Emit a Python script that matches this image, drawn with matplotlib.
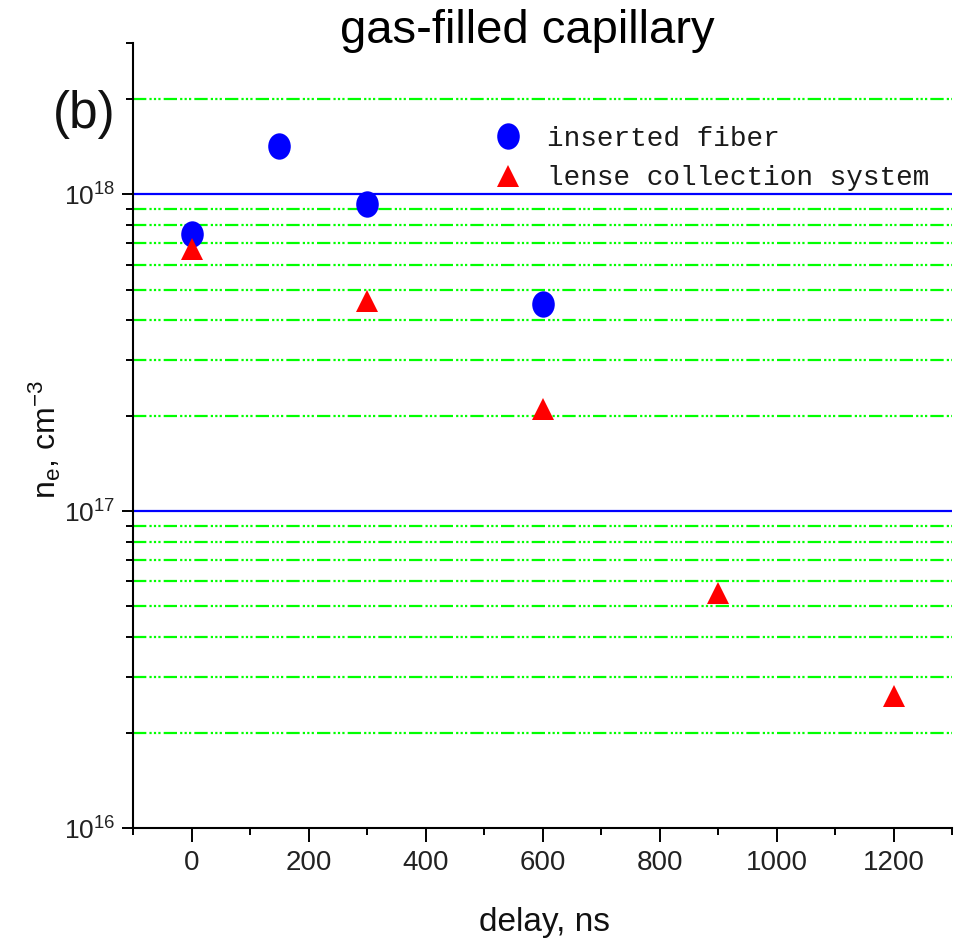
import matplotlib
matplotlib.use("Agg")
import matplotlib.pyplot as plt
from matplotlib.path import Path
from matplotlib.ticker import NullFormatter

plt.rcParams['font.family'] = ['Liberation Sans', 'DejaVu Sans']
plt.rcParams['mathtext.fontset'] = 'custom'
plt.rcParams['mathtext.rm'] = 'Liberation Sans'
plt.rcParams['mathtext.it'] = 'Liberation Sans'

# data
delay_fiber = [0, 150, 300, 600]
ne_fiber = [7.5e17, 1.42e18, 9.3e17, 4.5e17]
delay_lens = [0, 300, 600, 900, 1200]
ne_lens = [6.7e17, 4.6e17, 2.1e17, 5.5e16, 2.6e16]

label_fiber = "inserted fiber"
label_lens = "lense collection system"

# slightly tall circle marker, like the original
circ = Path.unit_circle()
ellipse = Path(circ.vertices * [1.0, 1.17], circ.codes)

fig = plt.figure(figsize=(9.62, 9.47), dpi=100)
ax = fig.add_axes([133 / 962, 1 - 828 / 947, 819 / 962, 785 / 947])

ax.set_yscale('log')
ax.set_ylim(1e16, 3e18)
ax.set_xlim(-100, 1300)

# grid: blue at decades, green dash-dot-dot at the 2..9 subdivisions
green_ls = (0, (6.0, 1.4, 1.0, 1.0, 1.0, 1.0, 1.0, 1.4))
for dec in [1e16, 1e17, 1e18]:
    for m in range(2, 10):
        v = m * dec
        if v >= 3e18:
            break
        ax.axhline(v, color='#00ff00', lw=1.6, ls=green_ls, zorder=1)
for dec in [1e17, 1e18]:
    ax.axhline(dec, color='#0000ff', lw=1.6, zorder=1)

ax.plot(delay_fiber, ne_fiber, ls='none', marker=ellipse, ms=19,
        color='#0000ff', mew=0, label=label_fiber, zorder=3)
ax.plot(delay_lens, ne_lens, ls='none', marker='^', ms=16,
        color='#ff0000', mew=0, label=label_lens, zorder=3)

ax.spines['top'].set_visible(False)
ax.spines['right'].set_visible(False)
for s in ['left', 'bottom']:
    ax.spines[s].set_linewidth(1.5)

ax.set_xticks(range(0, 1201, 200))
ax.set_xticks(range(-100, 1301, 200), minor=True)
ax.yaxis.set_minor_formatter(NullFormatter())

ax.tick_params(axis='x', which='major', direction='out', length=10, width=1.4,
               labelsize=20, pad=6, labelcolor='#222222')
ax.tick_params(axis='x', which='minor', direction='out', length=5, width=1.4)
ax.tick_params(axis='y', which='major', direction='out', length=8, width=1.4,
               labelsize=19, pad=5, labelcolor='#222222')
ax.tick_params(axis='y', which='minor', direction='out', length=5, width=1.4)

ax.set_xlabel("delay, ns", fontsize=24, color='#111111')
ax.xaxis.set_label_coords(0.503, -0.1)
ax.set_ylabel(r"n$_e$, cm$^{-3}$", fontsize=23, color='#111111')
ax.yaxis.set_label_coords(-0.085, 0.495)

fig.text(527 / 962, 1 - 43 / 947, "gas-filled capillary", fontsize=34,
         ha='center', va='baseline')
fig.text(53 / 962, 1 - 128 / 947, "(b)", fontsize=37, ha='left', va='baseline',
         color='#111111')

leg = ax.legend(loc='upper left', bbox_to_anchor=(494 / 962, 1 - 126 / 947),
                bbox_transform=fig.transFigure, frameon=False,
                prop={'family': 'Liberation Mono', 'size': 20},
                handlelength=1.0, handletextpad=0.9, labelspacing=0.48,
                borderpad=0, borderaxespad=0, numpoints=1)
for t in leg.get_texts():
    t.set_color('#1a1a1a')

fig.savefig("out.png", dpi=100)
